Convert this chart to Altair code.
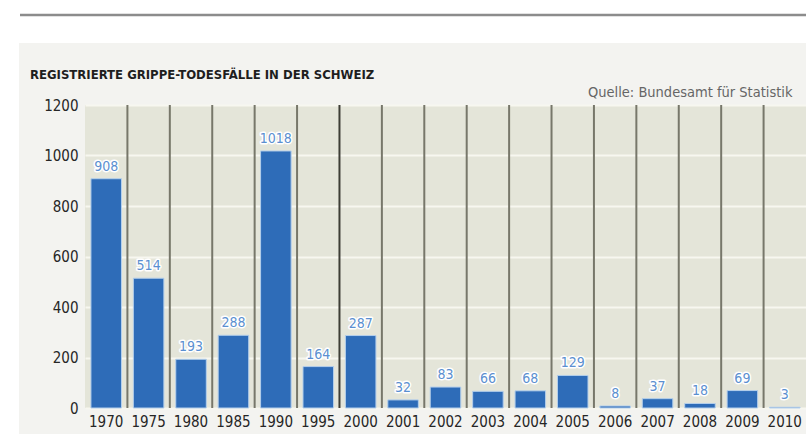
import altair as alt
import pandas as pd

years = ["1970", "1975", "1980", "1985", "1990", "1995", "2000", "2001", "2002",
         "2003", "2004", "2005", "2006", "2007", "2008", "2009", "2010"]
deaths = [908, 514, 193, 288, 1018, 164, 287, 32, 83, 66, 68, 129, 8, 37, 18, 69, 3]
y_ticks = [0, 200, 400, 600, 800, 1000, 1200]
title_text = "REGISTRIERTE GRIPPE-TODESFÄLLE IN DER SCHWEIZ"
source_text = "Quelle: Bundesamt für Statistik"

W, H = 721, 303
PAD = {"left": 85, "top": 105, "right": 0, "bottom": 26}
FONT = "DejaVu Sans Condensed, Liberation Sans Narrow, sans-serif"
P_IN = 0.28
STEP = W / len(years)

df = pd.DataFrame({"year": years, "deaths": deaths})
sep = pd.DataFrame({"year": years[:-1], "deaths": [0] * (len(years) - 1),
                    "strong": [y == "1995" for y in years[:-1]]})
one = pd.DataFrame({"t": [title_text], "s": [source_text]})

xscale = alt.Scale(domain=years, paddingInner=P_IN, paddingOuter=P_IN / 2)
yscale = alt.Scale(domain=[0, 1200], nice=False)

xax = alt.Axis(title=None, labelAngle=0, domain=False, ticks=False,
               labelFont=FONT, labelFontSize=15, labelColor="#262626",
               labelPadding=6, grid=False)
yax = alt.Axis(values=y_ticks, title=None, domain=False, ticks=False, format="d",
               gridColor="#f7f7f0", gridWidth=2, labelFont=FONT,
               labelFontSize=15, labelColor="#262626", labelPadding=7)


def X(**kw):
    return alt.X("year:N", scale=xscale, sort=years, axis=xax, **kw)


def Y():
    return alt.Y("deaths:Q", scale=yscale, axis=yax)


# white areas outside the light panel
white_top = alt.Chart(one).mark_rect(color="white").encode(
    x=alt.value(-PAD["left"]), x2=alt.value(W), y=alt.value(-PAD["top"]), y2=alt.value(-62))
white_left = alt.Chart(one).mark_rect(color="white").encode(
    x=alt.value(-PAD["left"]), x2=alt.value(-66), y=alt.value(-62), y2=alt.value(H + PAD["bottom"]))
top_rule = alt.Chart(one).mark_rule(color="#8c8c8c", strokeWidth=2.5).encode(
    x=alt.value(-65), x2=alt.value(W), y=alt.value(-90))

bars = alt.Chart(df).mark_bar(color="#2e6cb8", stroke="#b4cfeb", strokeWidth=1).encode(
    x=X(), y=Y())

seps = alt.Chart(sep).mark_rule(strokeWidth=2, xOffset=STEP * P_IN / 2).encode(
    x=X(bandPosition=1),
    y=alt.value(0), y2=alt.value(H),
    color=alt.condition("datum.strong", alt.value("#3d3d35"), alt.value("#77776a")))

halo = alt.Chart(df).mark_text(font=FONT, fontSize=14, baseline="bottom", dy=-5,
                               stroke="white", strokeWidth=3, strokeJoin="round",
                               color="white").encode(
    x=X(), y=Y(), text="deaths:Q")
labels = alt.Chart(df).mark_text(font=FONT, fontSize=14, baseline="bottom", dy=-5,
                                 color="#5b8fd0").encode(
    x=X(), y=Y(), text="deaths:Q")

title = alt.Chart(one).mark_text(font=FONT, fontSize=13, fontWeight="bold", align="left",
                                 baseline="alphabetic", color="#1e1e1e").encode(
    x=alt.value(-55), y=alt.value(-26), text="t:N")
source = alt.Chart(one).mark_text(font=FONT, fontSize=14.5, align="left",
                                  baseline="alphabetic", color="#666666").encode(
    x=alt.value(503), y=alt.value(-8), text="s:N")

chart = alt.layer(white_top, white_left, top_rule, bars, seps, halo, labels, title, source).properties(
    width=W, height=H,
    autosize=alt.AutoSizeParams(type="none"),
    padding=PAD,
    background="#f3f3f0",
).configure_view(stroke=None, fill="#e4e5d9")

chart.save("out.html", embed_options={"renderer": "svg", "actions": False})
